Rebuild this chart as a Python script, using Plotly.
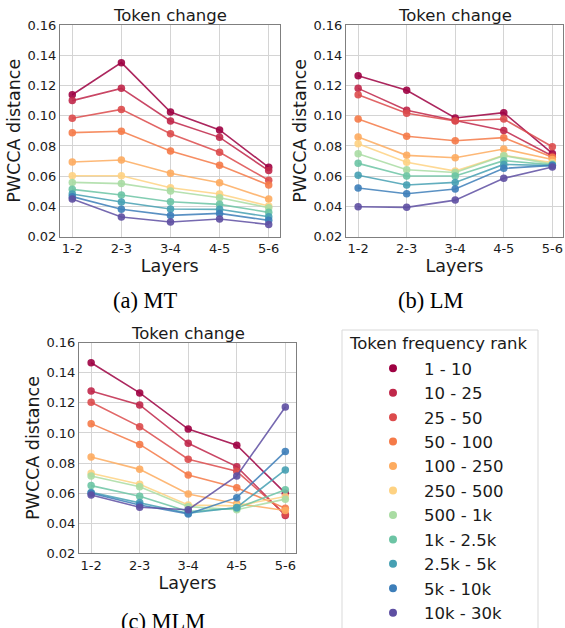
import plotly.graph_objects as go

layers = ["1-2", "2-3", "3-4", "4-5", "5-6"]
ranks = ["1 - 10", "10 - 25", "25 - 50", "50 - 100", "100 - 250", "250 - 500",
         "500 - 1k", "1k - 2.5k", "2.5k - 5k", "5k - 10k", "10k - 30k"]
colors = ["#9e0142", "#c0274a", "#dc4b4c", "#f57a48", "#fdab5f", "#fed282",
          "#a9dca3", "#6cc4a4", "#46a0b3", "#3d7eb9", "#5e4fa2"]

mt_values = [
    [0.1139, 0.1351, 0.1025, 0.0906, 0.0659],
    [0.1100, 0.1181, 0.0965, 0.0857, 0.0637],
    [0.0983, 0.1042, 0.0881, 0.0758, 0.0573],
    [0.0888, 0.0897, 0.0767, 0.0672, 0.0542],
    [0.0694, 0.0707, 0.0619, 0.0557, 0.0449],
    [0.0603, 0.0603, 0.0524, 0.0482, 0.0403],
    [0.0559, 0.0551, 0.0502, 0.0458, 0.0392],
    [0.0513, 0.0476, 0.0431, 0.0414, 0.0361],
    [0.0482, 0.0429, 0.0383, 0.0381, 0.0332],
    [0.0465, 0.0381, 0.0341, 0.0354, 0.0308],
    [0.0449, 0.0330, 0.0297, 0.0317, 0.0281],
]
lm_values = [
    [0.1265, 0.1168, 0.0985, 0.1020, 0.0751],
    [0.1181, 0.1036, 0.0969, 0.0903, 0.0734],
    [0.1139, 0.1016, 0.0965, 0.0978, 0.0795],
    [0.0978, 0.0864, 0.0835, 0.0855, 0.0725],
    [0.0859, 0.0738, 0.0722, 0.0780, 0.0710],
    [0.0815, 0.0692, 0.0634, 0.0738, 0.0690],
    [0.0749, 0.0643, 0.0625, 0.0736, 0.0680],
    [0.0685, 0.0601, 0.0601, 0.0703, 0.0675],
    [0.0606, 0.0542, 0.0559, 0.0678, 0.0670],
    [0.0522, 0.0484, 0.0515, 0.0652, 0.0672],
    [0.0398, 0.0394, 0.0442, 0.0586, 0.0661],
]
mlm_values = [
    [0.1467, 0.1266, 0.1026, 0.0918, 0.0600],
    [0.1279, 0.1186, 0.0931, 0.0776, 0.0452],
    [0.1204, 0.1042, 0.0825, 0.0745, 0.0460],
    [0.1062, 0.0924, 0.0721, 0.0636, 0.0500],
    [0.0840, 0.0758, 0.0594, 0.0530, 0.0485],
    [0.0732, 0.0659, 0.0521, 0.0515, 0.0578],
    [0.0714, 0.0643, 0.0510, 0.0490, 0.0560],
    [0.0650, 0.0579, 0.0478, 0.0500, 0.0622],
    [0.0605, 0.0537, 0.0466, 0.0505, 0.0754],
    [0.0599, 0.0521, 0.0462, 0.0570, 0.0876],
    [0.0588, 0.0506, 0.0490, 0.0714, 0.1172],
]
y_ticks = [0.02, 0.04, 0.06, 0.08, 0.10, 0.12, 0.14, 0.16]
panel_title = "Token change"
legend_title = "Token frequency rank"
captions = ["(a) MT", "(b) LM", "(c) MLM"]

W, H = 565, 628
FONT = "DejaVu Sans"

def hexa(h, a):
    h = h.lstrip("#")
    return "rgba(%d,%d,%d,%.2f)" % (int(h[0:2], 16), int(h[2:4], 16), int(h[4:6], 16), a)

# plot areas in pixels: (left, right, top, bottom)
boxes = [(60, 279.5, 25, 236.7), (346, 563, 25, 236.7), (79, 296, 342.7, 553.3)]
datasets = [mt_values, lm_values, mlm_values]

fig = go.Figure()
for p, (vals, box) in enumerate(zip(datasets, boxes)):
    sfx = "" if p == 0 else str(p + 1)
    for i, (name, col) in enumerate(zip(ranks, colors)):
        fig.add_trace(go.Scatter(
            x=list(range(len(layers))), y=vals[i], mode="lines+markers",
            line=dict(color=hexa(col, 0.85), width=1.6),
            marker=dict(color=hexa(col, 0.9), size=7.5),
            showlegend=False, xaxis="x" + sfx, yaxis="y" + sfx, name=name))

# legend-only traces
for name, col in zip(ranks, colors):
    fig.add_trace(go.Scatter(x=[None], y=[None], mode="markers",
                             marker=dict(color=col, size=8), name=name,
                             showlegend=True, xaxis="x", yaxis="y"))

layout = dict(width=W, height=H, margin=dict(l=0, r=0, t=0, b=0, autoexpand=False),
              paper_bgcolor="white", plot_bgcolor="white",
              font=dict(family=FONT, color="#1a1a1a"))
annotations = []
for p, box in enumerate(boxes):
    l, r, t, b = box
    sfx = "" if p == 0 else str(p + 1)
    layout["xaxis" + sfx] = dict(
        domain=[l / W, r / W], range=[-0.25, 4.22],
        tickmode="array", tickvals=list(range(len(layers))), ticktext=layers,
        showgrid=True, gridcolor="#d4d4d4", gridwidth=1,
        showline=True, linecolor="#7f7f7f", linewidth=1, mirror=True,
        ticks="", tickfont=dict(size=13, family=FONT, color="#1a1a1a"),
        title=dict(text="Layers", font=dict(size=17.5, family=FONT), standoff=2),
        anchor="y" + sfx, zeroline=False, fixedrange=True, automargin=False)
    layout["yaxis" + sfx] = dict(
        domain=[1 - b / H, 1 - t / H], range=[0.02, 0.16],
        tickmode="array", tickvals=y_ticks, tickformat=".2f",
        showgrid=True, gridcolor="#d4d4d4", gridwidth=1,
        showline=True, linecolor="#7f7f7f", linewidth=1, mirror=True,
        ticks="", tickfont=dict(size=13, family=FONT, color="#1a1a1a"),
        title=dict(text="PWCCA distance", font=dict(size=17.5, family=FONT), standoff=2),
        anchor="x" + sfx, zeroline=False, fixedrange=True, automargin=False)
    annotations.append(dict(text=panel_title, x=(l + r) / 2 / W, y=1 - (t + 2) / H,
                            xref="paper", yref="paper", xanchor="center", yanchor="bottom",
                            showarrow=False, font=dict(size=16.5, family=FONT, color="#1a1a1a")))

cap_pos = [(145, 300), (431, 300), (163, 621)]
for txt, (cx, cy) in zip(captions, cap_pos):
    annotations.append(dict(text=txt, x=cx / W, y=1 - cy / H, xref="paper", yref="paper",
                            xanchor="center", yanchor="middle", showarrow=False,
                            font=dict(size=22.5, family="Liberation Serif", color="black")))
annotations.append(dict(text=legend_title, x=347 / W, y=1 - 343 / H, xref="paper", yref="paper",
                        xanchor="left", yanchor="middle", showarrow=False,
                        font=dict(size=16.5, family=FONT, color="#1a1a1a")))
layout["annotations"] = annotations
layout["shapes"] = [dict(type="rect", xref="paper", yref="paper",
                         x0=342 / W, x1=538 / W, y0=-0.05, y1=1 - 330 / H,
                         line=dict(color="#d9d9d9", width=1), fillcolor="rgba(0,0,0,0)")]
layout["legend"] = dict(
    x=362 / W, y=1 - 351 / H, xanchor="left", yanchor="top",
    bgcolor="rgba(0,0,0,0)", borderwidth=0, itemwidth=52,
    font=dict(size=16.5, family=FONT, color="#1a1a1a"),
    maxheight=600)
fig.update_layout(**layout)
fig.write_html("out.html", config={"displayModeBar": False},
               post_script="document.body.style.margin='0';document.body.style.overflow='hidden';")
